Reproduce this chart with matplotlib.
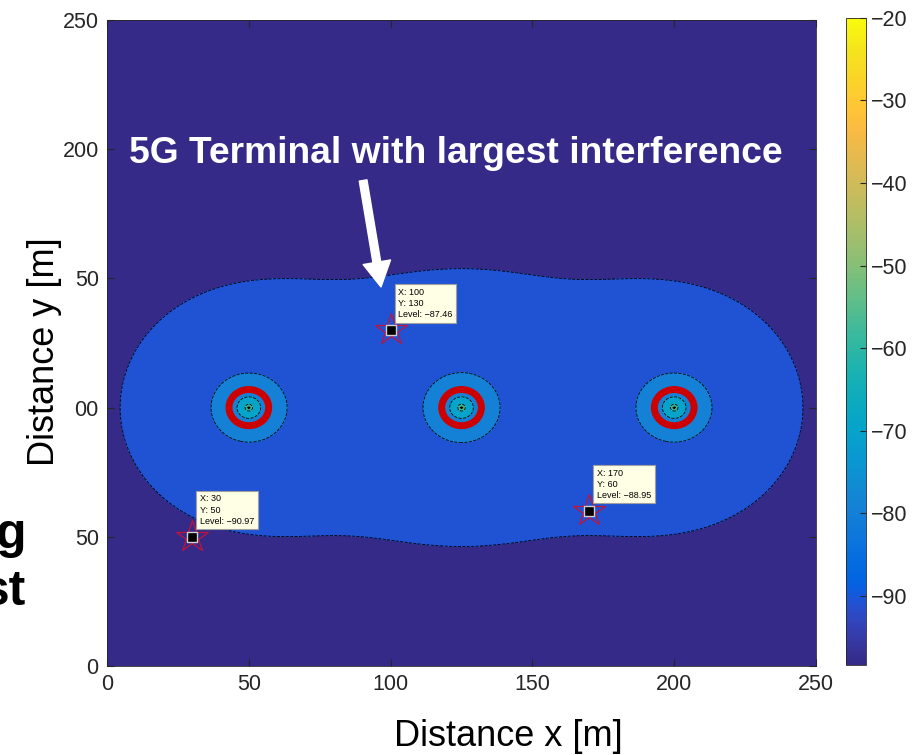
import numpy as np
import matplotlib
matplotlib.use("Agg")
import matplotlib.pyplot as plt
from matplotlib.colors import LinearSegmentedColormap, Normalize
from matplotlib.patches import Circle
import matplotlib.cm as cm

plt.rcParams['font.family'] = ['Liberation Sans', 'DejaVu Sans']

# base stations (3 cells along y = 100 m) and propagation settings
bs_x = [50, 125, 200]
bs_y = [100, 100, 100]
p_ref = -57.64          # received level at 1 m [dBm]
ring_r = 7.0            # red protection ring radius [m]

levels = [-90, -80, -70, -60, -50, -40, -30, -20]
clim = (-98.4, -20)

# data tips shown on the map
tip_x = [30, 100, 170]
tip_y = [50, 130, 60]
tip_level = [-90.97, -87.46, -88.95]

xticks = [0, 50, 100, 150, 200, 250]
yticks = [0, 50, 100, 150, 200, 250]
ytick_labels = ['0', '50', '00', '50', '200', '250']
cbar_ticks = [-90, -80, -70, -60, -50, -40, -30, -20]

# MATLAB parula (subset of the 64 entry table)
parula_idx = [0, 2, 4, 5, 6, 7, 8, 10, 12, 15, 16, 20, 23, 24, 28, 32, 36, 40, 44, 48, 52, 54, 56, 60, 63]
parula_rgb = [
    (0.2081, 0.1663, 0.5292), (0.2123, 0.2138, 0.6270), (0.1959, 0.2645, 0.7279),
    (0.1707, 0.2919, 0.7792), (0.1253, 0.3242, 0.8303), (0.0591, 0.3598, 0.8683),
    (0.0117, 0.3875, 0.8820), (0.0165, 0.4266, 0.8786), (0.0498, 0.4586, 0.8641),
    (0.0779, 0.5040, 0.8384), (0.0793, 0.5200, 0.8312), (0.0343, 0.5966, 0.8199),
    (0.0231, 0.6418, 0.7913), (0.0228, 0.6535, 0.7768),
    (0.0843, 0.6928, 0.7062), (0.2178, 0.7250, 0.6193), (0.3953, 0.7459, 0.5244),
    (0.5709, 0.7485, 0.4494), (0.7184, 0.7411, 0.3905), (0.8507, 0.7299, 0.3360),
    (0.9739, 0.7314, 0.2666), (0.9990, 0.7653, 0.2164), (0.9880, 0.8066, 0.1794),
    (0.9589, 0.8949, 0.1132), (0.9763, 0.9831, 0.0538)]
parula = LinearSegmentedColormap.from_list(
    'parula', [(i / 63.0, c) for i, c in zip(parula_idx, parula_rgb)], N=256)
parula64 = parula.resampled(64)
norm = Normalize(*clim)

# received level map (sum of the three cells, free space)
g = np.arange(0, 250.25, 0.5)
X, Y = np.meshgrid(g, g)
P = np.zeros_like(X)
for bx, by in zip(bs_x, bs_y):
    d = np.maximum(np.hypot(X - bx, Y - by), 0.013)
    P += 10 ** ((p_ref - 20 * np.log10(d)) / 10)
Z = 10 * np.log10(P)

fig = plt.figure(figsize=(9.18, 7.55), dpi=100)
ax = fig.add_axes([0.1166, 0.1179, 0.7723, 0.8556])
cax = fig.add_axes([0.9216, 0.1192, 0.0218, 0.857])

lv = [Z.min() - 0.01] + levels + [Z.max() + 0.01]
band_colors = [parula64(min(norm(max(v, clim[0])), 0.999)) for v in lv[:-1]]
ax.contourf(X, Y, Z, levels=lv, colors=band_colors)
ax.contour(X, Y, Z, levels=levels, colors='k', linewidths=0.6)

for bx, by in zip(bs_x, bs_y):
    ax.add_patch(Circle((bx, by), ring_r, fill=False, ec='#cc0000', lw=5))

for tx, ty, tl in zip(tip_x, tip_y, tip_level):
    ax.plot(tx, ty, marker='*', ms=24, mfc='none', mec='#c0143c', mew=0.9)
    ax.plot(tx, ty, marker='s', ms=7, mfc='black', mec='#d0d0d0', mew=1)
    ax.annotate('X: %d\nY: %d\nLevel: \u2212%.2f' % (tx, ty, -tl), (tx, ty),
                xytext=(5.5, 8.0), textcoords='offset points', ha='left', va='bottom',
                fontsize=6.5, linespacing=1.3, color='black',
                bbox=dict(boxstyle='square,pad=0.4', fc='#ffffe6', ec='#a0a0a0', lw=0.8))

ax.annotate('', xy=(96.6, 146.7), xytext=(90.3, 187.9),
            arrowprops=dict(arrowstyle='simple,head_length=0.9,head_width=1.0,tail_width=0.28',
                            mutation_scale=20, color='white', shrinkA=0, shrinkB=0))
ax.text(123.1, 198.2, '5G Terminal with largest interference', color='white',
        fontsize=26.8, fontweight='bold', ha='center', va='center')

ax.set_xlim(0, 250)
ax.set_ylim(0, 250)
ax.set_xticks(xticks)
ax.set_yticks(yticks)
ax.set_yticklabels(ytick_labels)
ax.tick_params(direction='in', length=5, labelsize=15.5, colors='#262626',
               top=True, right=True, pad=6)
for s in ax.spines.values():
    s.set_color('#262626')
    s.set_linewidth(0.6)
ax.set_xlabel('Distance x [m]', fontsize=26)
ax.xaxis.set_label_coords(0.566, -0.082)
ax.set_ylabel('Distance y [m]', fontsize=26)
ax.yaxis.set_label_coords(-0.064, 0.486)

cb = fig.colorbar(cm.ScalarMappable(norm=norm, cmap=parula), cax=cax, ticks=cbar_ticks)
cb.ax.tick_params(direction='in', length=4, labelsize=15.5, colors='#262626')
cb.outline.set_edgecolor('#262626')
cb.outline.set_linewidth(0.6)

# cut-off slide text on the left
fig.text(26 / 918, 1 - 548 / 755, 'g', fontsize=36, fontweight='bold', ha='right', va='baseline')
fig.text(26 / 918, 1 - 605 / 755, 'st', fontsize=36, fontweight='bold', ha='right', va='baseline')

fig.savefig('out.png', dpi=100)
